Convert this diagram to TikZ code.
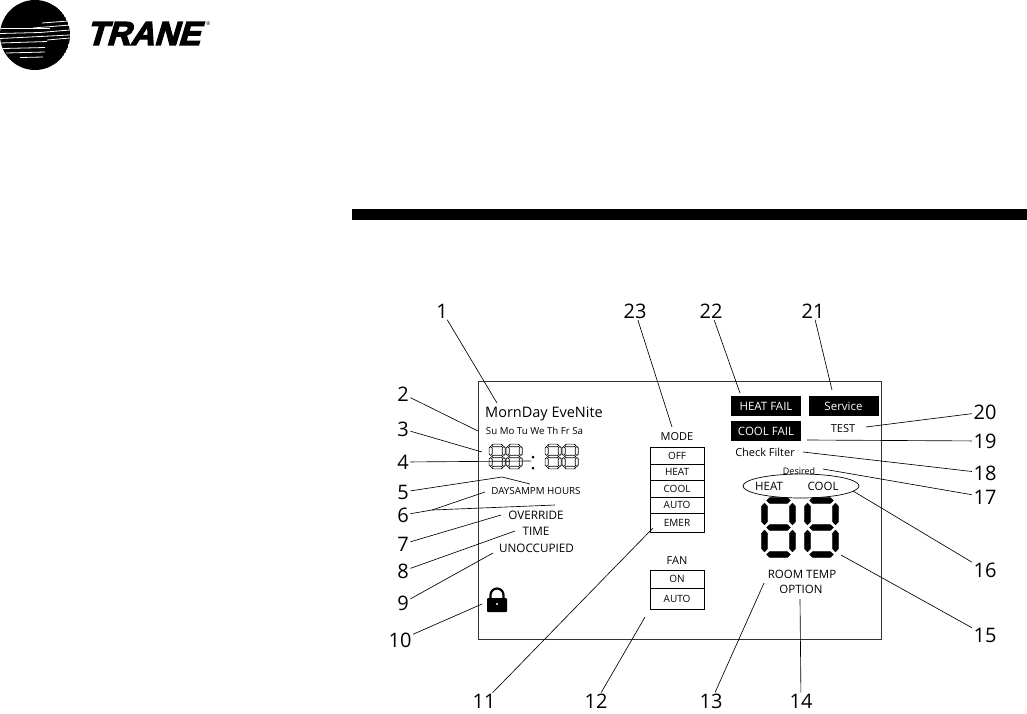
\documentclass[tikz,border=0pt]{standalone}
\usepackage{fontspec}
\usetikzlibrary{shapes.geometric}
\setmainfont{Open Sans}
\newfontfamily\logofont[UprightFont={* Bold},FakeSlant=0.3,FakeBold=4]{Liberation Sans}
\newcommand{\fs}[1]{\fontsize{#1}{#1}\selectfont}
\tikzset{
  num/.style={font=\fs{20},inner sep=1.5pt,text=black},
  lead/.style={line width=.65pt,black},
  lbl/.style={inner sep=0pt,text=black},
  cell/.style={draw=black,line width=.6pt,minimum width=53.5pt,inner sep=0pt,anchor=north west,font=\fs{10}},
  inv/.style={fill=black,text=white,inner sep=0pt,minimum width=70pt,minimum height=20pt,font=\fs{11.5}},
  seg/.style={fill=black,draw=black,line width=.3pt,line join=round},
  segout/.style={fill=white,draw=black,line width=.7pt,line join=round}
}
% seven segment digit in a 35 x 61 box
\newcommand{\digit}[5]{%
  \begin{scope}[shift={(#1,#2)},xscale=#3,yscale=#4]
    \foreach \yy in {3.5,30.5,57.5}
      \path[#5] (5.5,\yy) -- (9,\yy-3.2) -- (26,\yy-3.2) -- (29.5,\yy) -- (26,\yy+3.2) -- (9,\yy+3.2) -- cycle;
    \foreach \xx in {3.5,31.5}
      \foreach \yy in {6,33}
        \path[#5] (\xx,\yy) -- (\xx+3.2,\yy+3.5) -- (\xx+3.2,\yy+18.5) -- (\xx,\yy+22) -- (\xx-3.2,\yy+18.5) -- (\xx-3.2,\yy+3.5) -- cycle;
  \end{scope}}
\begin{document}
\begin{tikzpicture}[x=1pt,y=-1pt]
\useasboundingbox (0,0) rectangle (1027,713);
% logo
\begin{scope}
  \clip (35,35) circle (35);
  \fill[black] (35,35) circle (35);
  \foreach \a/\b/\c/\d in {42/23/68/21, 33/28/70/25, 0/28/50/28, 0/33.5/40/32.5, 40/32.5/70/30, 0/38.5/70/35, 0/43/47/41.5, 47/40/70/38, 3/48.5/45/47.5, 6/53/45/52, 20/57.5/43/57}
    \draw[white,line width=.8pt] (\a,\b) -- (\c,\d);
\end{scope}
\node[lbl,anchor=center,text=black,font={\logofont\fs{33}}] (logo) at (143,33.5) {TRANE};
\node[lbl,font=\fs{5}] (reg) at (208.5,23.5) {®};
% rule
\fill[black] (352,209) rectangle (1027,220);
% display frame
\draw[line width=.7pt,black!80] (478,381) rectangle (881,639);
% left side texts
\node[lbl,font=\fs{14.5}] (morn) at (544,414) {MornDay EveNite};
\node[lbl,font=\fs{9.7}] (days) at (534.5,431) {Su Mo Tu We Th Fr Sa};
\digit{489}{444}{.47}{.41}{segout}
\digit{506}{444}{.47}{.41}{segout}
\digit{545}{444}{.47}{.41}{segout}
\digit{562}{444}{.47}{.41}{segout}
\fill (533,457) circle (1.5) (533,468) circle (1.5);
\node[lbl,font=\fs{9.8}] (hours) at (536,491) {DAYSAMPM HOURS};
\node[lbl,font=\fs{11.7}] (over) at (536,515) {OVERRIDE};
\node[lbl,font=\fs{11.7}] (time) at (536,531) {TIME};
\node[lbl,font=\fs{11.7}] (unocc) at (536.5,548) {UNOCCUPIED};
% lock
\fill[black,rounded corners=1pt] (487,598) rectangle (507,612);
\draw[black,line width=2.2pt] (490.5,599) -- (490.5,595) arc[start angle=180,end angle=360,radius=6.5] -- (503.5,599);
\fill[white] (497,604) circle (1.2);
% mode
\node[lbl,font=\fs{11}] (mode) at (677,437) {MODE};
\node[cell,minimum height=17pt] (off) at (650,447) {OFF};
\node[cell,minimum height=16pt] (heatm) at (650,464) {HEAT};
\node[cell,minimum height=17pt] (coolm) at (650,480) {COOL};
\node[cell,minimum height=16pt] (autom) at (650,497) {AUTO};
\node[cell,minimum height=19pt] (emer) at (650,513) {EMER};
% fan
\node[lbl,font=\fs{11}] (fan) at (677,561) {FAN};
\node[cell,minimum height=17.5pt] (on) at (650,570) {ON};
\node[cell,minimum height=21.5pt] (autof) at (650,587.5) {AUTO};
% alarm boxes
\node[inv] (hf) at (766,406) {HEAT FAIL};
\node[inv] (svc) at (843.5,406) {Service};
\node[inv] (cf) at (766,431) {COOL FAIL};
\node[lbl,font=\fs{11}] (test) at (843,429) {TEST};
\node[lbl,font=\fs{11}] (filter) at (765,452) {Check Filter};
\node[lbl,font=\fs{9}] (desired) at (799,471) {Desired};
\node[draw=black,line width=.7pt,ellipse,minimum width=116pt,minimum height=24pt,inner sep=0pt] (oval) at (801,486) {};
\node[lbl,font=\fs{11.5}] (heatt) at (769,486) {HEAT};
\node[lbl,font=\fs{11.5}] (coolt) at (823,486) {COOL};
\digit{761}{497}{1}{1}{seg}
\digit{804}{497}{1}{1}{seg}
\node[lbl,font=\fs{11.5}] (room) at (802,574) {ROOM TEMP};
\node[lbl,font=\fs{11.5}] (opt) at (801,589) {OPTION};
% numbers
\foreach \n/\x/\y in {1/442/311,23/635/311,22/711/311,21/813/311,2/403/394,3/403/429,4/403/462,5/403/492,6/403/515,7/403/544,8/403/571,9/403/603,10/400/640,11/484/701.5,12/596/701.5,13/711/701.5,14/801/701.5,15/985/635,16/985/570,17/985/497,18/985/473,19/985/441,20/985/412}
  \node[num] (n\n) at (\x,\y) {\n};
% leader ends
\coordinate (e1) at (497,403);
\coordinate (e2) at (478,431);
\coordinate (e3) at (482,452);
\coordinate (e4) at (531,461);
\coordinate (b5) at (502,477);
\coordinate (e5) at (530,484);
\coordinate (j6) at (432,510);
\coordinate (e6a) at (485,492);
\coordinate (e6b) at (555,505);
\coordinate (e7) at (501,515);
\coordinate (e8) at (515,531);
\coordinate (e9) at (493,553);
\coordinate (e10) at (482,604);
\coordinate (e11) at (653,528);
\coordinate (e12) at (645,617);
\coordinate (e13) at (764,583);
\coordinate (e14) at (800,599);
\coordinate (e15) at (841,555);
\coordinate (e16) at (853,491);
\coordinate (e17) at (823,469);
\coordinate (e18) at (803,452);
\coordinate (e19) at (807,440);
\coordinate (e20) at (866,427);
\coordinate (e21) at (832,390);
\coordinate (e22) at (740,393);
\coordinate (e23) at (672,427);
\foreach \k in {1,2,3,4,7,8,9,10,11,12,13,14,15,16,17,18,19,20,21,22,23}
  \draw[lead] (n\k) -- (e\k);
\draw[lead] (n5) -- (b5) -- (e5);
\draw[lead] (n6) -- (j6) -- (e6a);
\draw[lead] (j6) -- (e6b);
\end{tikzpicture}
\end{document}
